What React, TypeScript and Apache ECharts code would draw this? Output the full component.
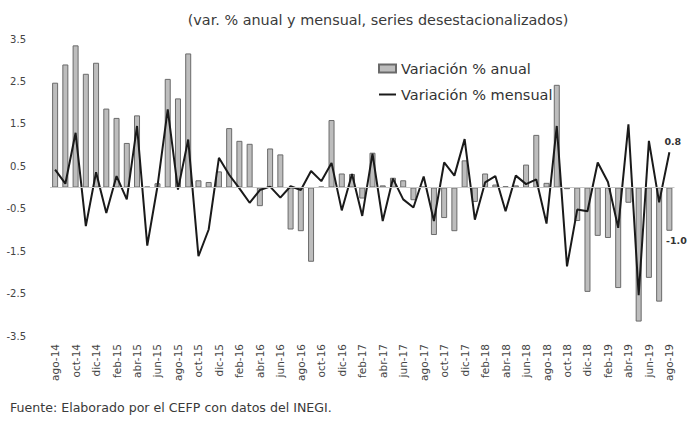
import React, { useEffect, useRef } from "react";
import * as echarts from "echarts";

const categories: string[] = [
  "ago-14", "sep-14", "oct-14", "nov-14", "dic-14",
  "ene-15", "feb-15", "mar-15", "abr-15", "may-15", "jun-15", "jul-15", "ago-15", "sep-15", "oct-15", "nov-15", "dic-15",
  "ene-16", "feb-16", "mar-16", "abr-16", "may-16", "jun-16", "jul-16", "ago-16", "sep-16", "oct-16", "nov-16", "dic-16",
  "ene-17", "feb-17", "mar-17", "abr-17", "may-17", "jun-17", "jul-17", "ago-17", "sep-17", "oct-17", "nov-17", "dic-17",
  "ene-18", "feb-18", "mar-18", "abr-18", "may-18", "jun-18", "jul-18", "ago-18", "sep-18", "oct-18", "nov-18", "dic-18",
  "ene-19", "feb-19", "mar-19", "abr-19", "may-19", "jun-19", "jul-19", "ago-19",
];

const anual: number[] = [
  2.47, 2.9, 3.35, 2.68, 2.94,
  1.86, 1.64, 1.05, 1.7, 0.02, 0.1, 2.56, 2.1, 3.16, 0.17, 0.13, 0.38,
  1.4, 1.1, 1.03, -0.44, 0.92, 0.78, -0.99, -1.03, -1.75, 0.02, 1.59, 0.33,
  0.32, -0.26, 0.82, 0.05, 0.23, 0.17, -0.3, 0.02, -1.12, -0.72, -1.03, 0.64,
  -0.34, 0.33, 0.07, 0.03, 0.05, 0.54, 1.24, 0.11, 2.42, -0.04, -0.79, -2.46,
  -1.14, -1.19, -2.37, -0.36, -3.16, -2.13, -2.69, -1.02,
];

const mensual: number[] = [
  0.42, 0.09, 1.29, -0.91, 0.36,
  -0.6, 0.27, -0.28, 1.45, -1.37, 0.03, 1.84, -0.05, 1.13, -1.62, -0.99, 0.7,
  0.3, -0.02, -0.36, -0.06, 0.02, -0.24, 0.03, -0.06, 0.39, 0.15, 0.58, -0.54,
  0.32, -0.67, 0.8, -0.79, 0.21, -0.28, -0.47, 0.26, -0.79, 0.59, 0.28, 1.14,
  -0.76, 0.12, 0.27, -0.56, 0.28, 0.08, 0.19, -0.85, 1.45, -1.86, -0.52, -0.56,
  0.59, 0.13, -0.95, 1.49, -2.54, 1.1, -0.35, 0.83,
];

const TITLE = "(var. % anual y mensual, series desestacionalizados)";
const SOURCE = "Fuente: Elaborado por el CEFP con datos del INEGI.";
const NAME_ANUAL = "Variación % anual";
const NAME_MENSUAL = "Variación % mensual";

const FONT = "DejaVu Sans";

export default function App() {
  const ref = useRef<HTMLDivElement>(null);

  useEffect(() => {
    if (!ref.current) return;
    const chart = echarts.init(ref.current, undefined, { renderer: "svg" });
    const last = anual.length - 1;

    const barData = anual.map((v, i) =>
      i === last
        ? {
            value: v,
            label: {
              show: true,
              position: "bottom",
              offset: [7, 0],
              formatter: (p: any) => Number(p.value).toFixed(1),
              fontFamily: FONT,
              fontSize: 9.5,
              fontWeight: "bold",
              color: "#333",
            },
          }
        : v
    );

    chart.setOption({
      animation: false,
      backgroundColor: "#ffffff",
      textStyle: { fontFamily: FONT },
      title: {
        text: TITLE,
        left: 373,
        top: 8,
        textAlign: "center",
        textStyle: { fontFamily: FONT, fontSize: 14.4, fontWeight: "normal", color: "#3a3a3a" },
      },
      graphic: [
        {
          type: "text",
          left: 10,
          top: 401,
          style: { text: SOURCE, fontFamily: FONT, fontSize: 12.6, fill: "#3a3a3a" },
        },
      ],
      legend: {
        orient: "vertical",
        left: 373,
        top: 56,
        itemWidth: 17,
        itemHeight: 8,
        itemGap: 11,
        textStyle: { fontFamily: FONT, fontSize: 14.5, color: "#333" },
        data: [
          { name: NAME_ANUAL, icon: "rect" },
          { name: NAME_MENSUAL, itemStyle: { color: "rgba(0,0,0,0)", borderColor: "rgba(0,0,0,0)", borderWidth: 0 } },
        ],
      },
      grid: { left: 50, right: 12.5, top: 39, bottom: 85 },
      xAxis: {
        type: "category",
        data: categories,
        boundaryGap: true,
        axisLine: { show: false },
        axisTick: { show: false },
        axisLabel: {
          interval: 1,
          rotate: 90,
          margin: 8,
          fontFamily: FONT,
          fontSize: 10.5,
          color: "#444",
        },
      },
      yAxis: {
        type: "value",
        min: -3.5,
        max: 3.5,
        interval: 1,
        axisLine: { show: false },
        axisTick: { show: false },
        splitLine: { show: false },
        axisLabel: {
          margin: 24,
          fontFamily: FONT,
          fontSize: 10,
          color: "#444",
          formatter: (v: number) => v.toFixed(1),
        },
      },
      series: [
        {
          name: NAME_ANUAL,
          type: "bar",
          data: barData,
          barWidth: 6,
          itemStyle: { color: "#bdbdbd", borderColor: "#6a6a6a", borderWidth: 1 },
          markLine: {
            silent: true,
            symbol: "none",
            label: { show: false },
            lineStyle: { color: "#c8c8c8", width: 1, type: "solid" },
            data: [{ yAxis: 0 }],
          },
          z: 2,
        },
        {
          name: NAME_MENSUAL,
          type: "line",
          data: mensual,
          symbol: "none",
          showSymbol: false,
          lineStyle: { color: "#1a1a1a", width: 2 },
          itemStyle: { color: "#1a1a1a" },
          endLabel: {
            show: true,
            offset: [-13, -11],
            formatter: (p: any) => Number(p.value).toFixed(1),
            fontFamily: FONT,
            fontSize: 9.5,
            fontWeight: "bold",
            color: "#333",
          },
          z: 3,
        },
      ],
    });

    return () => chart.dispose();
  }, []);

  return (
    <div
      ref={ref}
      style={{ position: "absolute", left: 0, top: 0, width: 687, height: 421 }}
    />
  );
}
